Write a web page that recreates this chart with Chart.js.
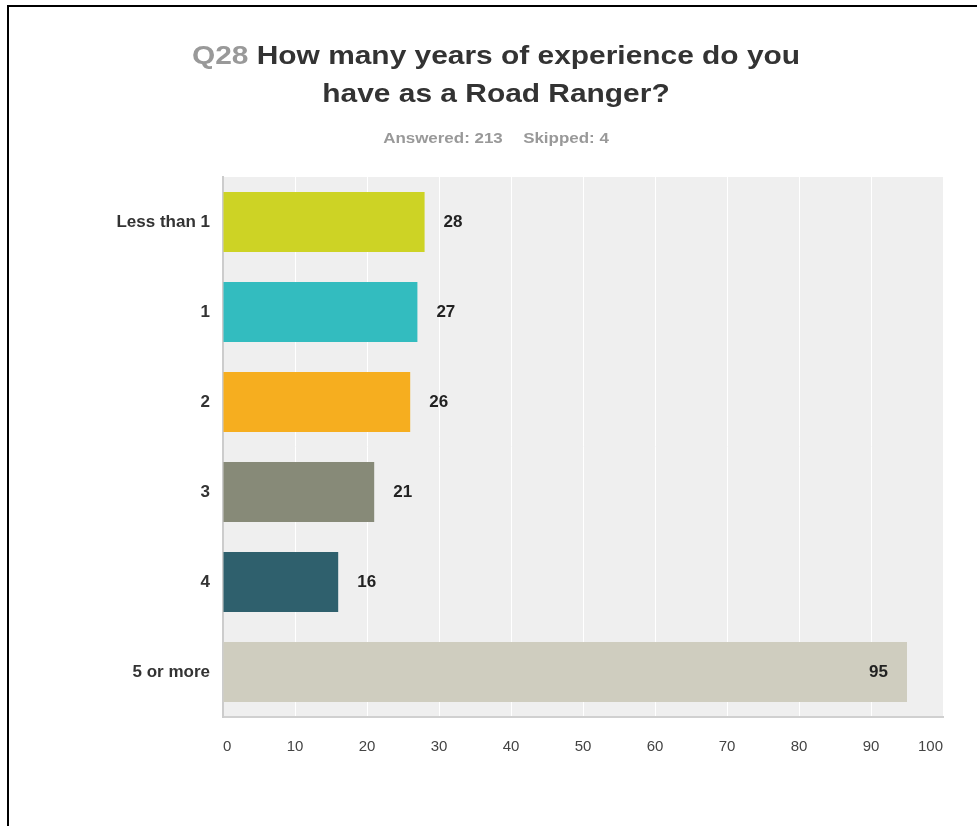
<!DOCTYPE html>
<html>
<head>
<meta charset="utf-8">
<script src="https://cdn.jsdelivr.net/npm/chart.js@4/dist/chart.umd.min.js"></script>
<style>
  html, body { margin: 0; padding: 0; background: #fff; }
  body { width: 977px; height: 826px; position: relative; overflow: hidden; font-family: "Liberation Sans", Arial, sans-serif; }
  #frame { position: absolute; left: 7px; top: 5px; width: 975px; height: 830px; border-top: 2px solid #000; border-left: 2px solid #000; }
  #title { position: absolute; left: 0; top: 36px; width: 992px; text-align: center; font-weight: bold; font-size: 26px; line-height: 38px; color: #333; transform: scaleX(1.15); }
  #title .qn { color: #999; }
  #sub { position: absolute; left: 0; top: 129px; width: 992px; text-align: center; font-weight: bold; font-size: 15px; color: #999; transform: scaleX(1.13); }
  #sub span { margin: 0 9px; }
  canvas { position: absolute; left: 0; top: 0; }
</style>
</head>
<body>
<div id="frame"></div>
<canvas id="chart" width="977" height="826"></canvas>
<div id="title"><span class="qn">Q28</span> How many years of experience do you<br>have as a Road Ranger?</div>
<div id="sub"><span>Answered: 213</span><span>Skipped: 4</span></div>
<script>
// survey answers
const categories = ['Less than 1', '1', '2', '3', '4', '5 or more'];
const responses = [28, 27, 26, 21, 16, 95];
const barColors = ['#cdd325', '#33bcbf', '#f6ae1f', '#878a78', '#2f606d', '#cfcdbf'];

// grey plot background
const plotBackground = {
  id: 'plotBackground',
  beforeDraw(chart) {
    const { ctx, chartArea: a } = chart;
    ctx.save();
    ctx.fillStyle = '#efefef';
    ctx.fillRect(a.left, a.top, a.right - a.left, a.bottom - a.top);
    ctx.restore();
  }
};

// value next to each bar (inside when it would not fit)
const valueLabels = {
  id: 'valueLabels',
  afterDatasetsDraw(chart) {
    const { ctx, chartArea: a } = chart;
    const meta = chart.getDatasetMeta(0);
    ctx.save();
    ctx.font = 'bold 17px "Liberation Sans", Arial, sans-serif';
    ctx.fillStyle = '#222';
    ctx.textBaseline = 'middle';
    meta.data.forEach((bar, i) => {
      const txt = String(responses[i]);
      const w = ctx.measureText(txt).width;
      if (bar.x + 19 + w > a.right) {
        ctx.textAlign = 'right';
        ctx.fillText(txt, bar.x - 19, bar.y);
      } else {
        ctx.textAlign = 'left';
        ctx.fillText(txt, bar.x + 19, bar.y);
      }
    });
    ctx.restore();
  }
};

new Chart(document.getElementById('chart'), {
  type: 'bar',
  data: {
    labels: categories,
    datasets: [{
      data: responses,
      backgroundColor: barColors,
      categoryPercentage: 1,
      barPercentage: 0.667
    }]
  },
  options: {
    indexAxis: 'y',
    responsive: false,
    animation: false,
    layout: { padding: { left: 0, right: 34, top: 177, bottom: 69 } },
    plugins: { legend: { display: false }, tooltip: { enabled: false } },
    scales: {
      x: {
        min: 0,
        max: 100,
        ticks: { stepSize: 10, padding: 21, align: 'inner', color: '#444', font: { size: 15, family: '"Liberation Sans", Arial, sans-serif' } },
        grid: { color: '#ffffff', lineWidth: 1, drawTicks: false },
        border: { color: '#d0d0d0', width: 2 },
        afterFit(s) { s.height = 40; }
      },
      y: {
        ticks: { padding: 13, color: '#333', font: { size: 17, weight: 'bold', family: '"Liberation Sans", Arial, sans-serif' } },
        grid: { display: false, drawTicks: false },
        border: { color: '#cccccc', width: 2 },
        afterFit(s) { s.width = 223; }
      }
    }
  },
  plugins: [plotBackground, valueLabels]
});
</script>
</body>
</html>
